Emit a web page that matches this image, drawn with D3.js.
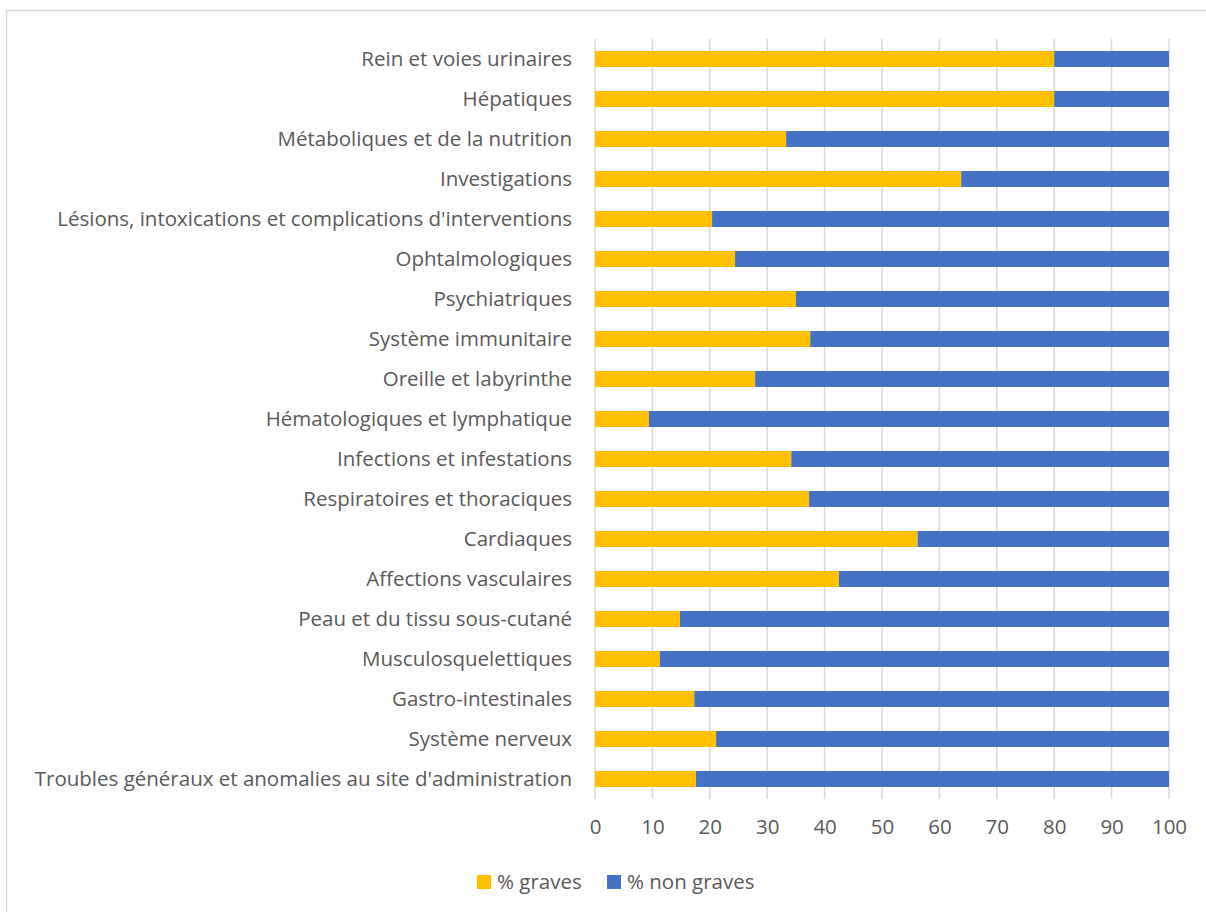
<!DOCTYPE html>
<html>
<head>
<meta charset="utf-8">
<script src="https://cdn.jsdelivr.net/npm/d3@7"></script>
<style>
  body { margin: 0; background: #fff; }
  text { font-family: "Open Sans", sans-serif; fill: #595959; }
</style>
</head>
<body>
<div id="chart"></div>
<script>
// categories, top to bottom
var categories = [
    "Rein et voies urinaires",
    "Hépatiques",
    "Métaboliques et de la nutrition",
    "Investigations",
    "Lésions, intoxications et complications d'interventions",
    "Ophtalmologiques",
    "Psychiatriques",
    "Système immunitaire",
    "Oreille et labyrinthe",
    "Hématologiques et lymphatique",
    "Infections et infestations",
    "Respiratoires et thoraciques",
    "Cardiaques",
    "Affections vasculaires",
    "Peau et du tissu sous-cutané",
    "Musculosquelettiques",
    "Gastro-intestinales",
    "Système nerveux",
    "Troubles généraux et anomalies au site d'administration"
];

// % graves
var graves = [80, 80, 33.3, 63.8, 20.4, 24.4, 35.0, 37.5, 27.9, 9.4, 34.2, 37.3, 56.2, 42.5, 14.8, 11.3, 17.3, 21.1, 17.6];
// % non graves
var nonGraves = graves.map(function(g) { return 100 - g; });

var seriesNames = ["% graves", "% non graves"];
var colors = ["#FFC000", "#4472C4"];
var xTicks = [0, 10, 20, 30, 40, 50, 60, 70, 80, 90, 100];

var svgWidth = 1206;
var svgHeight = 912;
var fontSize = "20.5px";

var margin = { top: 39, right: 37, bottom: 113, left: 595 };
var chartWidth = svgWidth - margin.left - margin.right;
var chartHeight = svgHeight - margin.top - margin.bottom;

var svg = d3.select("#chart")
    .append("svg")
    .attr("width", svgWidth)
    .attr("height", svgHeight);

// outer frame
svg.append("rect")
    .attr("x", 6.5)
    .attr("y", 10.5)
    .attr("width", svgWidth)
    .attr("height", svgHeight)
    .attr("fill", "none")
    .attr("stroke", "#d9d9d9")
    .attr("stroke-width", 1.5);

var chartGroup = svg.append("g")
    .attr("transform", `translate(${margin.left}, ${margin.top})`);

var x = d3.scaleLinear()
    .domain([0, 100])
    .range([0, chartWidth]);

var y = d3.scaleBand()
    .domain(categories)
    .range([0, chartHeight])
    .paddingInner(0.6)
    .paddingOuter(0.3);

// gridlines
chartGroup.append("g")
    .selectAll("line")
    .data(xTicks)
    .enter()
    .append("line")
    .attr("x1", d => x(d))
    .attr("x2", d => x(d))
    .attr("y1", 0)
    .attr("y2", chartHeight)
    .attr("stroke", "#d9d9d9")
    .attr("stroke-width", 1.5);

// stacked data
var rows = categories.map(function(c, i) {
    return { cat: c, graves: graves[i], nonGraves: nonGraves[i] };
});
var stack = d3.stack().keys(["graves", "nonGraves"]);
var layers = stack(rows);

chartGroup.selectAll(".layer")
    .data(layers)
    .enter()
    .append("g")
    .attr("class", "layer")
    .attr("fill", (d, i) => colors[i])
    .selectAll("rect")
    .data(d => d)
    .enter()
    .append("rect")
    .attr("x", d => x(d[0]))
    .attr("width", d => x(d[1]) - x(d[0]))
    .attr("y", d => y(d.data.cat))
    .attr("height", y.bandwidth());

// y axis labels
var leftAxis = d3.axisLeft(y).tickSize(0).tickPadding(23);
var yAxis = chartGroup.append("g").call(leftAxis);
yAxis.select(".domain").remove();
yAxis.selectAll("text")
    .style("font-size", fontSize)
    .attr("fill", "#595959");

// x axis labels
var bottomAxis = d3.axisBottom(x).tickValues(xTicks).tickSize(0).tickPadding(20);
var xAxis = chartGroup.append("g")
    .attr("transform", `translate(0, ${chartHeight})`)
    .call(bottomAxis);
xAxis.select(".domain").remove();
xAxis.selectAll("text")
    .style("font-size", fontSize)
    .attr("fill", "#595959");

// legend
var legend = svg.append("g")
    .attr("transform", "translate(477, 875)");
var legendX = [0, 130];
seriesNames.forEach(function(name, i) {
    var g = legend.append("g").attr("transform", `translate(${legendX[i]}, 0)`);
    g.append("rect")
        .attr("width", 14)
        .attr("height", 14)
        .attr("fill", colors[i]);
    g.append("text")
        .attr("x", 20)
        .attr("y", 7)
        .attr("dy", "0.35em")
        .style("font-size", fontSize)
        .text(name);
});
</script>
</body>
</html>
